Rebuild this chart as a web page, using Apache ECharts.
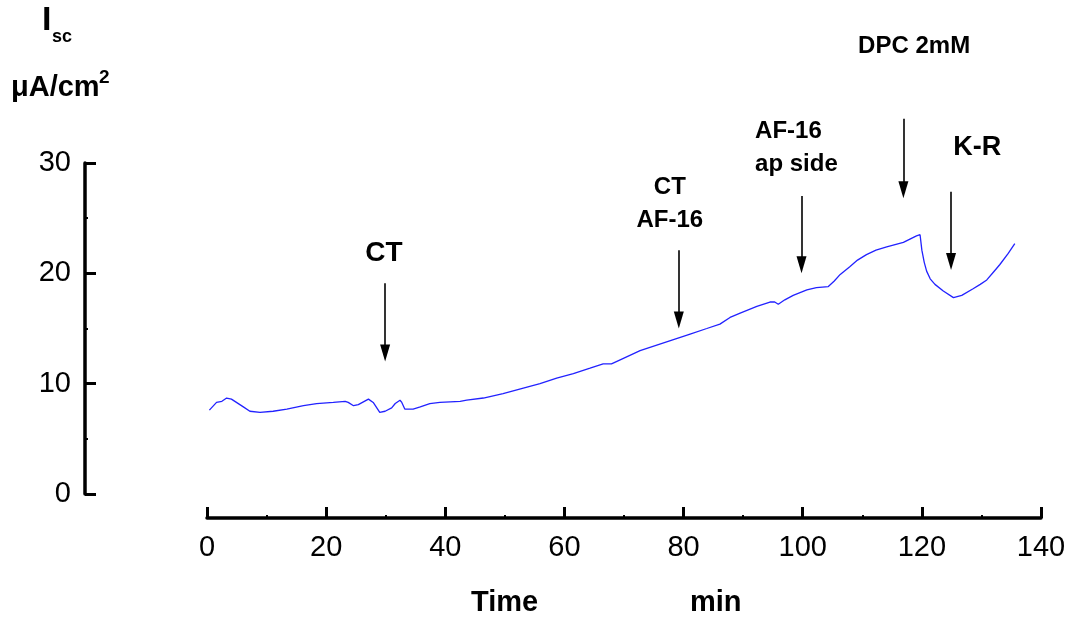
<!DOCTYPE html>
<html>
<head>
<meta charset="utf-8">
<script src="https://cdn.jsdelivr.net/npm/echarts@6/dist/echarts.min.js"></script>
<style>html,body{margin:0;padding:0;background:#fff}#c{width:1072px;height:618px}</style>
</head>
<body>
<div id="c"></div>
<script>
// ---- data ----
const timeMin = [0.4,1.6,2.5,3.3,4.1,6.1,7.2,8.9,11.1,13.4,16.2,18.4,21.2,23.2,23.7,24.6,25.4,27.1,27.9,29.0,29.9,31.0,31.6,32.4,32.7,33.2,34.6,35.8,37.4,39.1,42.5,43.6,46.4,49.7,53.1,55.9,58.7,61.5,64.3,66.5,67.9,69.9,72.7,75.5,78.3,81.1,83.9,86.1,87.8,89.5,92.3,94.5,95.3,95.9,97.0,98.4,100.7,102.3,104.3,105.3,106.3,107.9,109.2,110.7,112.3,114.1,115.5,116.9,118.0,119.1,119.7,120.0,120.4,120.8,121.4,122.2,123.6,125.3,126.7,128.6,129.8,130.9,132.0,133.1,134.5,135.6];
const iscValues = [7.6,8.3,8.4,8.7,8.6,7.9,7.5,7.4,7.5,7.7,8.0,8.2,8.3,8.4,8.3,8.0,8.1,8.6,8.3,7.4,7.5,7.8,8.2,8.5,8.3,7.7,7.7,7.9,8.2,8.3,8.4,8.5,8.7,9.1,9.6,10.0,10.5,10.9,11.4,11.8,11.8,12.3,13.0,13.5,14.0,14.5,15.0,15.4,16.0,16.4,17.0,17.4,17.4,17.2,17.6,18.0,18.5,18.7,18.8,19.3,19.9,20.6,21.2,21.7,22.1,22.4,22.6,22.8,23.1,23.4,23.5,22.1,21.0,20.2,19.5,19.0,18.4,17.8,18.0,18.6,19.0,19.4,20.1,20.8,21.8,22.7];

const xTicks = [0,20,40,60,80,100,120,140];
const yTicks = [0,10,20,30];

// annotations (arrows: time, top value, tip value)
const arrowTime = [29.9, 79.2, 99.8, 116.9, 124.9];
const arrowTop  = [19.1, 22.1, 27.0, 34.0, 27.4];
const arrowTip  = [12.0, 15.0, 20.0, 26.8, 20.3];

const noteText  = ['CT', 'CT\nAF-16', 'AF-16\nap side', 'DPC 2mM', 'K-R'];
const noteTime  = [29.7, 77.7, 92.0, 118.7, 129.3];
const noteValue = [21.8, 26.3, 31.4, 40.6, 31.4];
const noteSize  = [28, 24, 24, 24, 27];
const noteAlign = ['center', 'center', 'left', 'center', 'center'];

const FONT = "'Liberation Sans', Arial, sans-serif";

// layout
const GRID_TOP = 163, GRID_BOTTOM = 124, GRID_LEFT = 207, GRID_RIGHT = 31, H = 618;
const pxPerUnit = (H - GRID_TOP - GRID_BOTTOM) / yTicks[yTicks.length - 1];
const OVER_MAX = 44; // hidden overlay axis reaches above the drawn axis so notes are not clipped
const overlayTop = H - GRID_BOTTOM - OVER_MAX * pxPerUnit;
const headHalf = 8.5 / pxPerUnit;

const seriesData = timeMin.map((t, i) => [t, iscValues[i]]);

const markLineData = arrowTime.map((t, i) => [
  { coord: [t, arrowTop[i]] },
  { coord: [t, arrowTip[i] + headHalf] }
]);

const markPointData = noteText.map((txt, i) => ({
  coord: [noteTime[i], noteValue[i]],
  symbolSize: 0,
  label: {
    show: true,
    position: 'inside',
    formatter: txt,
    fontSize: noteSize[i],
    lineHeight: 33,
    fontWeight: 'bold',
    fontFamily: FONT,
    color: '#000',
    align: noteAlign[i],
    verticalAlign: 'middle'
  }
}));

const axisCommon = {
  axisLine: { show: true, onZero: false, lineStyle: { color: '#000', width: 3.5 } },
  axisTick: { show: true, inside: true, length: 11, lineStyle: { color: '#000', width: 3 } },
  minorTick: { show: true, splitNumber: 2, length: 3, lineStyle: { color: '#000', width: 2 } },
  splitLine: { show: false },
  minorSplitLine: { show: false },
};
const hiddenAxis = { show: false, splitLine: { show: false } };

const chart = echarts.init(document.getElementById('c'), null, { renderer: 'canvas' });
chart.setOption({
  animation: false,
  backgroundColor: '#fff',
  grid: [
    { left: GRID_LEFT, right: GRID_RIGHT, top: GRID_TOP, bottom: GRID_BOTTOM, containLabel: false },
    { left: GRID_LEFT, right: GRID_RIGHT, top: overlayTop, bottom: GRID_BOTTOM, containLabel: false }
  ],
  xAxis: [
    Object.assign({
      type: 'value', gridIndex: 0, min: xTicks[0], max: xTicks[xTicks.length - 1], interval: 20,
      offset: 24,
      axisLabel: { fontSize: 29, color: '#000', fontFamily: FONT, margin: 15 }
    }, axisCommon),
    Object.assign({ type: 'value', gridIndex: 1, min: xTicks[0], max: xTicks[xTicks.length - 1] }, hiddenAxis)
  ],
  yAxis: [
    Object.assign({
      type: 'value', gridIndex: 0, min: yTicks[0], max: yTicks[yTicks.length - 1], interval: 10,
      offset: 122,
      axisLabel: { fontSize: 29, color: '#000', fontFamily: FONT, margin: 14 }
    }, axisCommon),
    Object.assign({ type: 'value', gridIndex: 1, min: 0, max: OVER_MAX }, hiddenAxis)
  ],
  graphic: [
    { type: 'text', left: 42, top: 4, style: { text: 'I', fontSize: 34, fontWeight: 'bold', fontFamily: FONT, fill: '#000' } },
    { type: 'text', left: 52, top: 28, style: { text: 'sc', fontSize: 18, fontWeight: 'bold', fontFamily: FONT, fill: '#000' } },
    { type: 'text', left: 11, top: 73, style: { text: 'μA/cm', fontSize: 29, fontWeight: 'bold', fontFamily: FONT, fill: '#000' } },
    { type: 'text', left: 99, top: 68, style: { text: '2', fontSize: 19, fontWeight: 'bold', fontFamily: FONT, fill: '#000' } },
    { type: 'text', left: 471, top: 588, style: { text: 'Time', fontSize: 29, fontWeight: 'bold', fontFamily: FONT, fill: '#000' } },
    { type: 'text', left: 690, top: 588, style: { text: 'min', fontSize: 29, fontWeight: 'bold', fontFamily: FONT, fill: '#000' } }
  ],
  series: [
    {
      type: 'line',
      xAxisIndex: 0, yAxisIndex: 0,
      data: seriesData,
      showSymbol: false,
      clip: false,
      smooth: false,
      lineStyle: { color: '#2222ff', width: 1.3 }
    },
    {
      type: 'line',
      name: 'notes',
      xAxisIndex: 1, yAxisIndex: 1,
      data: [],
      showSymbol: false,
      clip: false,
      markLine: {
        silent: true,
        symbol: ['none', 'triangle'],
        symbolSize: [10, 17],
        label: { show: false },
        lineStyle: { color: '#000', width: 1.6, type: 'solid' },
        emphasis: { disabled: true },
        data: markLineData
      },
      markPoint: {
        silent: true,
        symbol: 'circle',
        symbolSize: 0,
        itemStyle: { color: 'transparent' },
        data: markPointData
      }
    }
  ]
});
</script>
</body>
</html>
